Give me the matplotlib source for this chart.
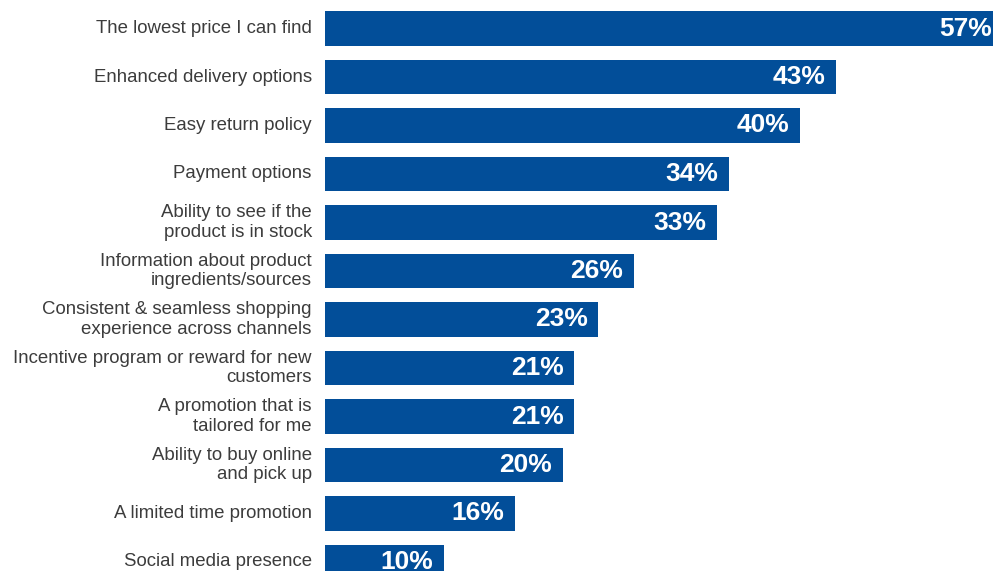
import matplotlib.pyplot as plt

categories = [
    'The lowest price I can find',
    'Enhanced delivery options',
    'Easy return policy',
    'Payment options',
    'Ability to see if the\nproduct is in stock',
    'Information about product\ningredients/sources',
    'Consistent & seamless shopping\nexperience across channels',
    'Incentive program or reward for new\ncustomers',
    'A promotion that is\ntailored for me',
    'Ability to buy online\nand pick up',
    'A limited time promotion',
    'Social media presence',
]
values = [57, 43, 40, 34, 33, 26, 23, 21, 21, 20, 16, 10]

bar_color  = '#024e99'
text_color = '#3c3c3c'

fig = plt.figure(figsize=(9.93, 5.71), dpi=100)
ax = fig.add_axes([325/993, 0, 668/993, 1])

pos = list(range(len(values)))
ax.barh(pos, values, height=0.72, color=bar_color)

ax.set_xlim(0, 668/11.88)
ax.set_ylim((571 - 28.5)/48.5, -28.5/48.5)
ax.axis('off')

for y, v, lab in zip(pos, values, categories):
    ax.annotate(f'{v}%', xy=(v, y), xytext=(-7.5, 0), textcoords='offset points',
                ha='right', va='center', color='white', fontsize=19,
                fontweight='bold', family='Liberation Sans',
                annotation_clip=False)
    ax.annotate(lab, xy=(0, y), xytext=(-9.5, 0), textcoords='offset points',
                ha='right', va='center', color=text_color, fontsize=13.4,
                family='Liberation Sans', linespacing=1.2,
                annotation_clip=False)

fig.savefig('out.png', dpi=100)
